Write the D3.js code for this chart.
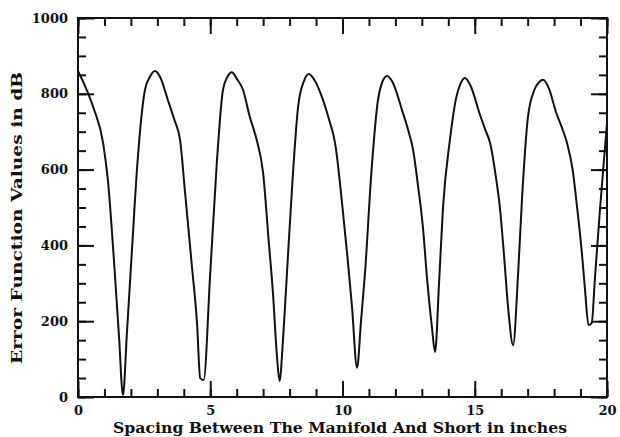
<!DOCTYPE html>
<meta charset="utf-8">
<style>
body{ margin:0; background:#fff; }
text{ font-family:"DejaVu Serif", serif; font-weight:bold; fill:#111; }
.tick text{ font-size:13px; }
.frame{ fill:none; stroke:#111; stroke-width:2px; }
.curve{ fill:none; stroke:#111; stroke-width:2px; }
</style>
<body>
<script src="https://cdn.jsdelivr.net/npm/d3@7"></script>
<script>

// spacing (inches) and error function value (dB)
var xs = [0, 0.3, 0.6, 0.95, 1.13, 1.35, 1.55, 1.7, 1.85, 2.04, 2.25, 2.53, 2.72, 2.91, 3.1, 3.4, 3.65, 3.86, 4.05, 4.3, 4.5, 4.62, 4.75, 5.0, 5.25, 5.48, 5.65, 5.82, 6.0, 6.24, 6.5, 6.75, 7.0, 7.2, 7.37, 7.52, 7.62, 7.75, 7.9, 8.1, 8.32, 8.55, 8.73, 8.95, 9.22, 9.5, 9.72, 10.0, 10.2, 10.36, 10.55, 10.7, 10.85, 11.1, 11.34, 11.5, 11.68, 11.9, 12.25, 12.5, 12.67, 12.85, 13.04, 13.2, 13.38, 13.5, 13.65, 13.8, 14.06, 14.3, 14.45, 14.63, 14.85, 15.2, 15.4, 15.58, 15.8, 15.95, 16.1, 16.26, 16.45, 16.64, 16.8, 17.01, 17.25, 17.4, 17.58, 17.8, 18.07, 18.3, 18.49, 18.7, 18.87, 19.05, 19.17, 19.3, 19.42, 19.55, 19.74, 20];
var ys = [860, 815, 760, 670, 572, 370, 160, 5, 170, 388, 620, 810, 845, 860, 845, 783, 730, 678, 538, 350, 195, 50, 45, 327, 620, 810, 845, 857, 840, 810, 738, 680, 590, 420, 275, 110, 42, 150, 327, 560, 765, 835, 852, 835, 792, 730, 670, 500, 360, 237, 77, 200, 327, 600, 783, 830, 847, 830, 757, 700, 652, 560, 448, 310, 185, 119, 300, 500, 678, 790, 825, 842, 820, 744, 705, 670, 580, 500, 380, 237, 137, 327, 540, 738, 810, 828, 837, 815, 752, 710, 670, 600, 500, 380, 282, 190, 195, 320, 500, 723];
var xTickLabels = [0, 5, 10, 15, 20];
var yTickLabels = [0, 200, 400, 600, 800, 1000];

var W = 620, H = 437;
var m = {left:78, right:13, top:18, bottom:40};

var svg = d3.select("body").append("svg").attr("width", W).attr("height", H);

var x = d3.scaleLinear().domain([0, 20]).range([m.left, W - m.right]);
var y = d3.scaleLinear().domain([0, 1000]).range([H - m.bottom, m.top]);

// frame
svg.append("rect").attr("class", "frame")
  .attr("x", x(0)).attr("y", y(1000))
  .attr("width", x(20) - x(0)).attr("height", y(0) - y(1000));

// inward ticks: minor every 1 / 50, major every 5 / 200
function tickLines(axis, scale, vals, len, pos){
  svg.append("g").call(axis(scale).tickValues(vals).tickSize(len).tickFormat(""))
    .attr("transform", pos)
    .call(g => g.select(".domain").remove())
    .call(g => g.selectAll("line").attr("stroke", "#111").attr("stroke-width", 2));
}
var xMinor = d3.range(0, 21, 1), xMajor = d3.range(0, 21, 5);
var yMinor = d3.range(0, 1001, 50), yMajor = d3.range(0, 1001, 200);
tickLines(d3.axisTop, x, xMinor, 8, `translate(0,${y(0)})`);
tickLines(d3.axisTop, x, xMajor, 16, `translate(0,${y(0)})`);
tickLines(d3.axisBottom, x, xMinor, 8, `translate(0,${y(1000)})`);
tickLines(d3.axisBottom, x, xMajor, 16, `translate(0,${y(1000)})`);
tickLines(d3.axisRight, y, yMinor, 8, `translate(${x(0)},0)`);
tickLines(d3.axisRight, y, yMajor, 16, `translate(${x(0)},0)`);
tickLines(d3.axisLeft, y, yMinor, 8, `translate(${x(20)},0)`);
tickLines(d3.axisLeft, y, yMajor, 16, `translate(${x(20)},0)`);

// tick labels
svg.append("g").attr("transform", `translate(0,${y(0)})`)
  .call(d3.axisBottom(x).tickValues(xTickLabels).tickSize(0).tickPadding(9).tickFormat(d3.format("d")))
  .call(g => g.select(".domain").remove())
  .call(g => g.selectAll("text").attr("font-size", 13));

svg.append("g").attr("transform", `translate(${x(0)},0)`)
  .call(d3.axisLeft(y).tickValues(yTickLabels).tickSize(0).tickPadding(10).tickFormat(d3.format("d")))
  .call(g => g.select(".domain").remove())
  .call(g => g.selectAll("text").attr("font-size", 13));

// curve
var pts = xs.map((v, i) => [v, ys[i]]);
svg.append("path").attr("class", "curve")
  .attr("d", d3.line().x(d => x(d[0])).y(d => y(d[1])).curve(d3.curveMonotoneX)(pts));

// axis titles
svg.append("text").attr("x", 340).attr("y", 433)
  .attr("text-anchor", "middle").attr("font-size", 14)
  .attr("textLength", 454).attr("lengthAdjust", "spacingAndGlyphs")
  .text("Spacing Between The Manifold And Short in inches");

svg.append("text").attr("transform", "translate(22,218) rotate(-90)")
  .attr("text-anchor", "middle").attr("font-size", 14)
  .attr("textLength", 292).attr("lengthAdjust", "spacingAndGlyphs")
  .text("Error Function Values in dB");

</script>
</body>
</html>
